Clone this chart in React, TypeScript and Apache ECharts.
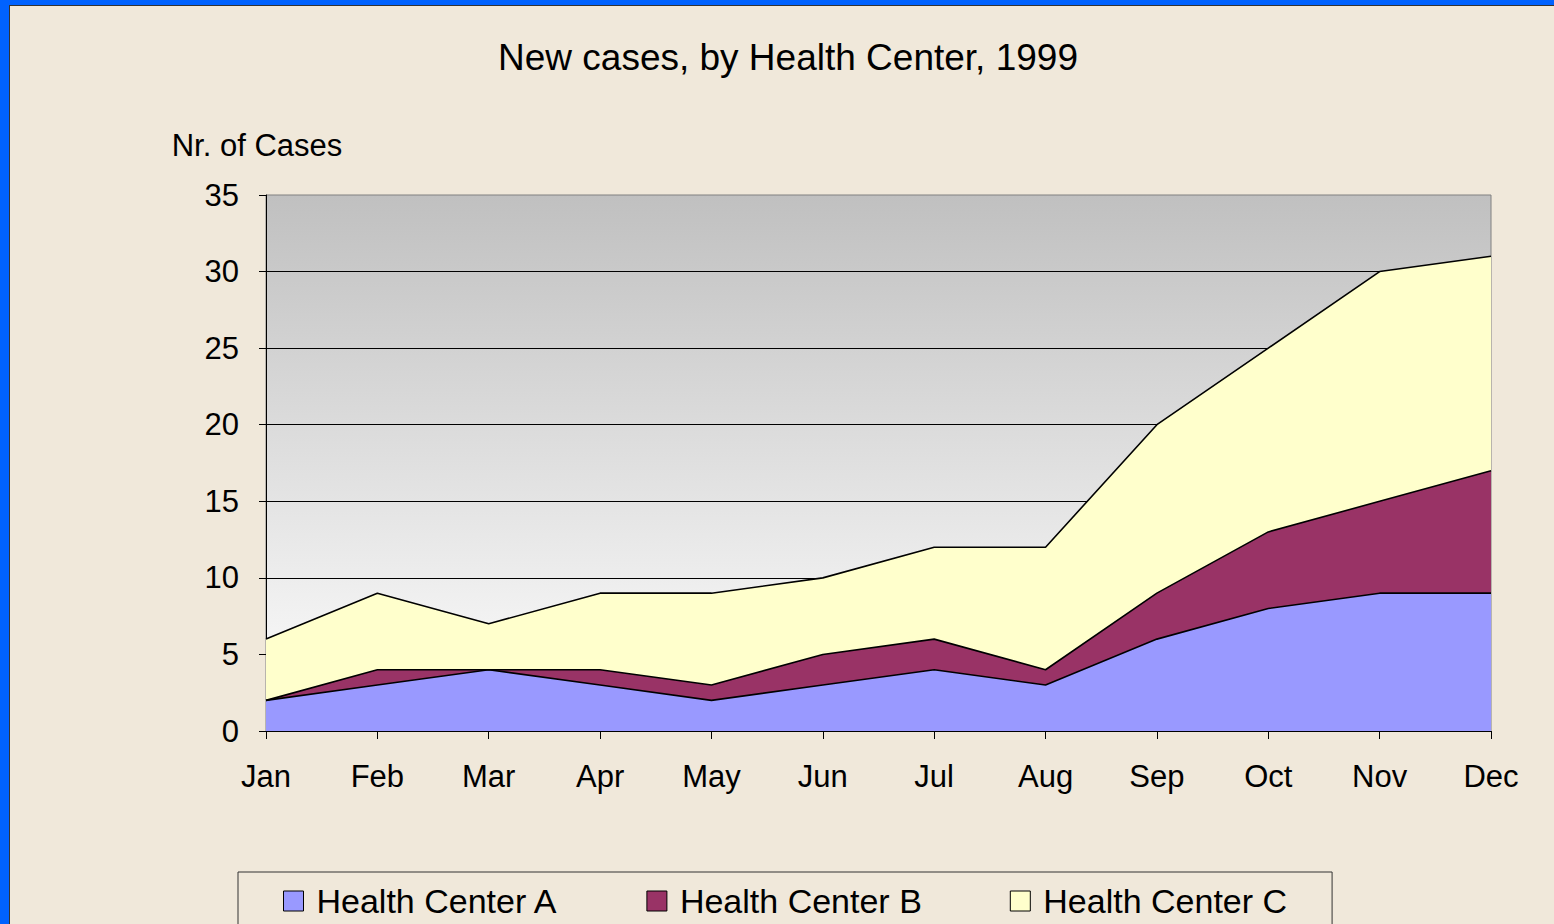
import React, { useEffect, useRef } from "react";
import * as echarts from "echarts";

const months = ["Jan", "Feb", "Mar", "Apr", "May", "Jun", "Jul", "Aug", "Sep", "Oct", "Nov", "Dec"];
const centerA = [2, 3, 4, 3, 2, 3, 4, 3, 6, 8, 9, 9];
const centerB = [0, 1, 0, 1, 1, 2, 2, 1, 3, 5, 6, 8];
const centerC = [4, 5, 3, 5, 6, 5, 6, 8, 11, 12, 15, 14];
const seriesNames = ["Health Center A", "Health Center B", "Health Center C"];
const seriesColors = ["#9999FF", "#993366", "#FFFFCC"];

const FONT = "Liberation Sans, Arial, sans-serif";

export default function App() {
  const ref = useRef<HTMLDivElement>(null);
  useEffect(() => {
    document.body.style.margin = "0";
    if (!ref.current) return;
    const chart = echarts.init(ref.current, undefined, { renderer: "svg" });
    const datasets = [centerA, centerB, centerC];
    chart.setOption({
      animation: false,
      backgroundColor: "#F0E8DA",
      textStyle: { fontFamily: FONT, color: "#000" },
      title: {
        text: "New cases, by Health Center, 1999",
        left: 783,
        textAlign: "center",
        top: 34,
        textStyle: { fontFamily: FONT, fontSize: 37, fontWeight: "normal", color: "#000" },
      },
      graphic: [
        { type: "rect", shape: { x: 0, y: 0, width: 1554, height: 5 }, style: { fill: "#0062FF" }, silent: true },
        { type: "rect", shape: { x: 0, y: 0, width: 9, height: 924 }, style: { fill: "#0062FF" }, silent: true },
        { type: "rect", shape: { x: 9, y: 5, width: 1545, height: 1 }, style: { fill: "#333333" }, silent: true },
        { type: "rect", shape: { x: 9, y: 5, width: 1, height: 919 }, style: { fill: "#333333" }, silent: true },
      ],
      legend: {
        left: 238,
        top: 872,
        orient: "horizontal",
        padding: [12, 45, 20, 45],
        itemGap: 88,
        itemWidth: 20,
        itemHeight: 20,
        icon: "rect",
        borderColor: "#333333",
        borderWidth: 1,
        backgroundColor: "#F0E8DA",
        itemStyle: { borderColor: "#000", borderWidth: 1 },
        textStyle: { fontFamily: FONT, fontSize: 34, color: "#000", padding: [0, 0, 0, 8], lineHeight: 34 },
        data: seriesNames,
      },
      grid: {
        left: 266,
        right: 63,
        top: 195,
        bottom: 193,
        show: true,
        borderColor: "#808080",
        borderWidth: 1,
        backgroundColor: new echarts.graphic.LinearGradient(0, 0, 0, 1, [
          { offset: 0, color: "#C0C0C0" },
          { offset: 1, color: "#FFFFFF" },
        ]),
      },
      xAxis: {
        type: "category",
        data: months,
        boundaryGap: false,
        axisLine: { lineStyle: { color: "#000", width: 1 } },
        axisTick: { show: true, length: 8, lineStyle: { color: "#000" } },
        axisLabel: { fontFamily: FONT, fontSize: 31, color: "#000", margin: 30 },
        splitLine: { show: false },
      },
      yAxis: {
        type: "value",
        min: 0,
        max: 35,
        interval: 5,
        name: "Nr. of Cases",
        nameLocation: "end",
        nameGap: 50,
        nameTextStyle: {
          fontFamily: FONT,
          fontSize: 31,
          color: "#000",
          align: "center",
          verticalAlign: "middle",
          padding: [0, 18, 0, 0],
        },
        axisLine: { show: true, lineStyle: { color: "#000", width: 1 } },
        axisTick: { show: true, length: 7, lineStyle: { color: "#000" } },
        axisLabel: { fontFamily: FONT, fontSize: 31, color: "#000", margin: 27 },
        splitLine: {
          show: true,
          showMinLine: false,
          showMaxLine: false,
          lineStyle: { color: "#000", width: 1 },
        },
      },
      series: datasets.map((d, i) => ({
        name: seriesNames[i],
        type: "line",
        stack: "total",
        data: d,
        symbol: "none",
        color: seriesColors[i],
        itemStyle: { color: seriesColors[i] },
        lineStyle: { color: "#000", width: 1.6 },
        areaStyle: { color: seriesColors[i], opacity: 1 },
        emphasis: { disabled: true },
      })),
    });
    return () => chart.dispose();
  }, []);
  return <div ref={ref} style={{ width: 1554, height: 924 }} />;
}
